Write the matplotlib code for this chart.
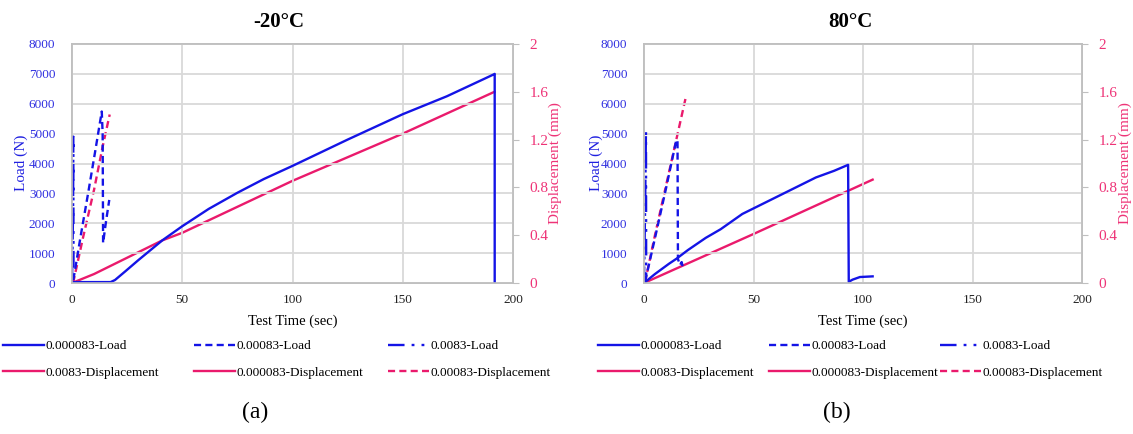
import numpy as np
import matplotlib
matplotlib.use('Agg')
import matplotlib.pyplot as plt

plt.rcParams['font.family'] = ['Liberation Serif', 'DejaVu Serif']

# ---------------- data: -20 C ----------------
a_slow_t = [0, 1, 17.5, 19.5, 24, 30, 41, 50, 62, 75, 87, 100, 125, 150, 170, 191.2, 191.7, 191.7]
a_slow_load = [0, 30, 30, 100, 380, 760, 1430, 1900, 2480, 3020, 3480, 3920, 4800, 5650, 6250, 6980, 7000, 0]
a_mid_t = [0.6, 4, 7.3, 10.5, 13.5, 13.9, 14.1, 15.5, 16.9]
a_mid_load = [100, 1600, 3000, 4400, 5740, 5000, 1340, 2100, 2780]
a_fast_t = [0, 0.5, 0.6, 0.7]
a_fast_load = [0, 2500, 4900, 0]

a_slow_disp_t = [0, 10, 41, 50, 100, 150, 191.6]
a_slow_disp = [0, 0.075, 0.357, 0.42, 0.855, 1.25, 1.6]
a_mid_disp_t = [0.5, 5, 10, 14, 17.1]
a_mid_disp = [0, 0.38, 0.78, 1.15, 1.41]
a_fast_disp_t = [0, 0.7]
a_fast_disp = [0, 0.05]

# ---------------- data: 80 C ----------------
b_slow_t = [0, 5, 11.4, 14.8, 20, 28.2, 35, 44.9, 61.7, 78.5, 86.8, 93.2, 93.5, 95.2, 98.6, 104.4]
b_slow_load = [0, 300, 644, 811, 1100, 1511, 1800, 2311, 2922, 3533, 3755, 3955, 40, 111, 200, 222]
b_mid_t = [0.5, 5, 10, 14.8, 15.3, 15.5, 16.5, 17.2, 17.8]
b_mid_load = [50, 1500, 3150, 4800, 4750, 800, 600, 700, 500]
b_fast_t = [0, 0.5, 0.9, 1.0]
b_fast_load = [0, 2500, 5100, 0]

b_slow_disp_t = [0, 50, 104.4]
b_slow_disp = [0, 0.41, 0.865]
b_mid_disp_t = [0.4, 5, 10, 15, 19.1]
b_mid_disp = [0, 0.40, 0.81, 1.22, 1.555]
b_fast_disp_t = [0, 0.8]
b_fast_disp = [0, 0.05]

labels = ['0.000083-Load', '0.00083-Load', '0.0083-Load',
          '0.0083-Displacement', '0.000083-Displacement', '0.00083-Displacement']

BLUE = '#1414E6'
PINK = '#EA1A6C'
GRID = '#D9D9D9'
lw = 1.7
dash_mid = (0, (3, 1.8))
dash_fast = (0, (7, 3, 1.2, 3, 1.2, 3))

W, H = 1133, 434
fig = plt.figure(figsize=(W / 100, H / 100), dpi=100)
title_tag = {'-20°C': '(a)', '80°C': '(b)'}


def panel(rect, title, d, title_x, ylab_x, rlab_x, leg_xs, tag_x):
    ax = fig.add_axes(rect)
    ax2 = ax.twinx()
    h1, = ax.plot(d[0], d[1], color=BLUE, lw=lw)
    h2, = ax.plot(d[2], d[3], color=BLUE, lw=lw, linestyle=dash_mid)
    h3, = ax.plot(d[4], d[5], color=BLUE, lw=lw, linestyle=dash_fast)
    h4, = ax2.plot(d[10], d[11], color=PINK, lw=lw)
    h5, = ax2.plot(d[6], d[7], color=PINK, lw=lw)
    h6, = ax2.plot(d[8], d[9], color=PINK, lw=lw, linestyle=dash_mid)
    ax.set_zorder(ax2.get_zorder() + 1)
    ax.patch.set_visible(False)

    ax.set_xlim(0, 200)
    ax.set_ylim(0, 8000)
    ax2.set_ylim(0, 2)
    ax.set_xticks(np.arange(0, 201, 50))
    ax.set_yticks(np.arange(0, 8001, 1000))
    ax2.set_yticks([0, 0.4, 0.8, 1.2, 1.6, 2])
    ax2.set_yticklabels(['0', '0.4', '0.8', '1.2', '1.6', '2'])
    ax.grid(True, color=GRID, lw=1.3)
    ax.set_axisbelow(True)
    for a in (ax, ax2):
        for s in a.spines.values():
            s.set_color('#BFBFBF')
            s.set_linewidth(1.2)
    ax.tick_params(axis='y', length=0, pad=12, labelsize=9.5, labelcolor='#3030E0')
    ax.tick_params(axis='x', length=0, pad=8, labelsize=9.5, labelcolor='#222222')
    ax2.tick_params(axis='y', length=4, color='#BFBFBF', pad=8, labelsize=11, labelcolor='#EE3377')

    fig.text(title_x / W, 1 - 22 / H, title, fontsize=15, fontweight='bold',
             ha='center', va='center')
    ax.set_xlabel('Test Time (sec)', fontsize=10.5, labelpad=6)
    fig.text(ylab_x / W, 1 - 163 / H, 'Load (N)', rotation=90, color='#2020E0',
             fontsize=11, ha='center', va='center')
    fig.text(rlab_x / W, 1 - 163 / H, 'Displacement (mm)', rotation=90, color='#EE3377',
             fontsize=11, ha='center', va='center')

    # one two-row legend per column: load on top, displacement below
    cols = [([h1, h4], [labels[0], labels[3]]),
            ([h2, h5], [labels[1], labels[4]]),
            ([h3, h6], [labels[2], labels[5]])]
    for (hs, ls), lx in zip(cols, leg_xs):
        fig.legend(hs, ls, loc='upper left',
                   bbox_to_anchor=(lx / W, 1 - 340 / H), frameon=False,
                   fontsize=9.5, handlelength=3.1, handletextpad=0.15,
                   labelspacing=1.1, borderaxespad=0, borderpad=0)
    fig.text(tag_x / W, 1 - 412 / H, title_tag[title], fontsize=17,
             ha='center', va='center')


da = [a_slow_t, a_slow_load, a_mid_t, a_mid_load, a_fast_t, a_fast_load,
      a_slow_disp_t, a_slow_disp, a_mid_disp_t, a_mid_disp, a_fast_disp_t, a_fast_disp]
db = [b_slow_t, b_slow_load, b_mid_t, b_mid_load, b_fast_t, b_fast_load,
      b_slow_disp_t, b_slow_disp, b_mid_disp_t, b_mid_disp, b_fast_disp_t, b_fast_disp]

panel([72 / W, 1 - 283 / H, 441 / W, 239 / H], '-20°C', da, 279, 21, 555,
      [3, 194, 388], 255)
panel([644 / W, 1 - 283 / H, 438 / W, 239 / H], '80°C', db, 850, 596, 1125,
      [598, 769, 940], 837)

fig.savefig('out.png', dpi=100)
